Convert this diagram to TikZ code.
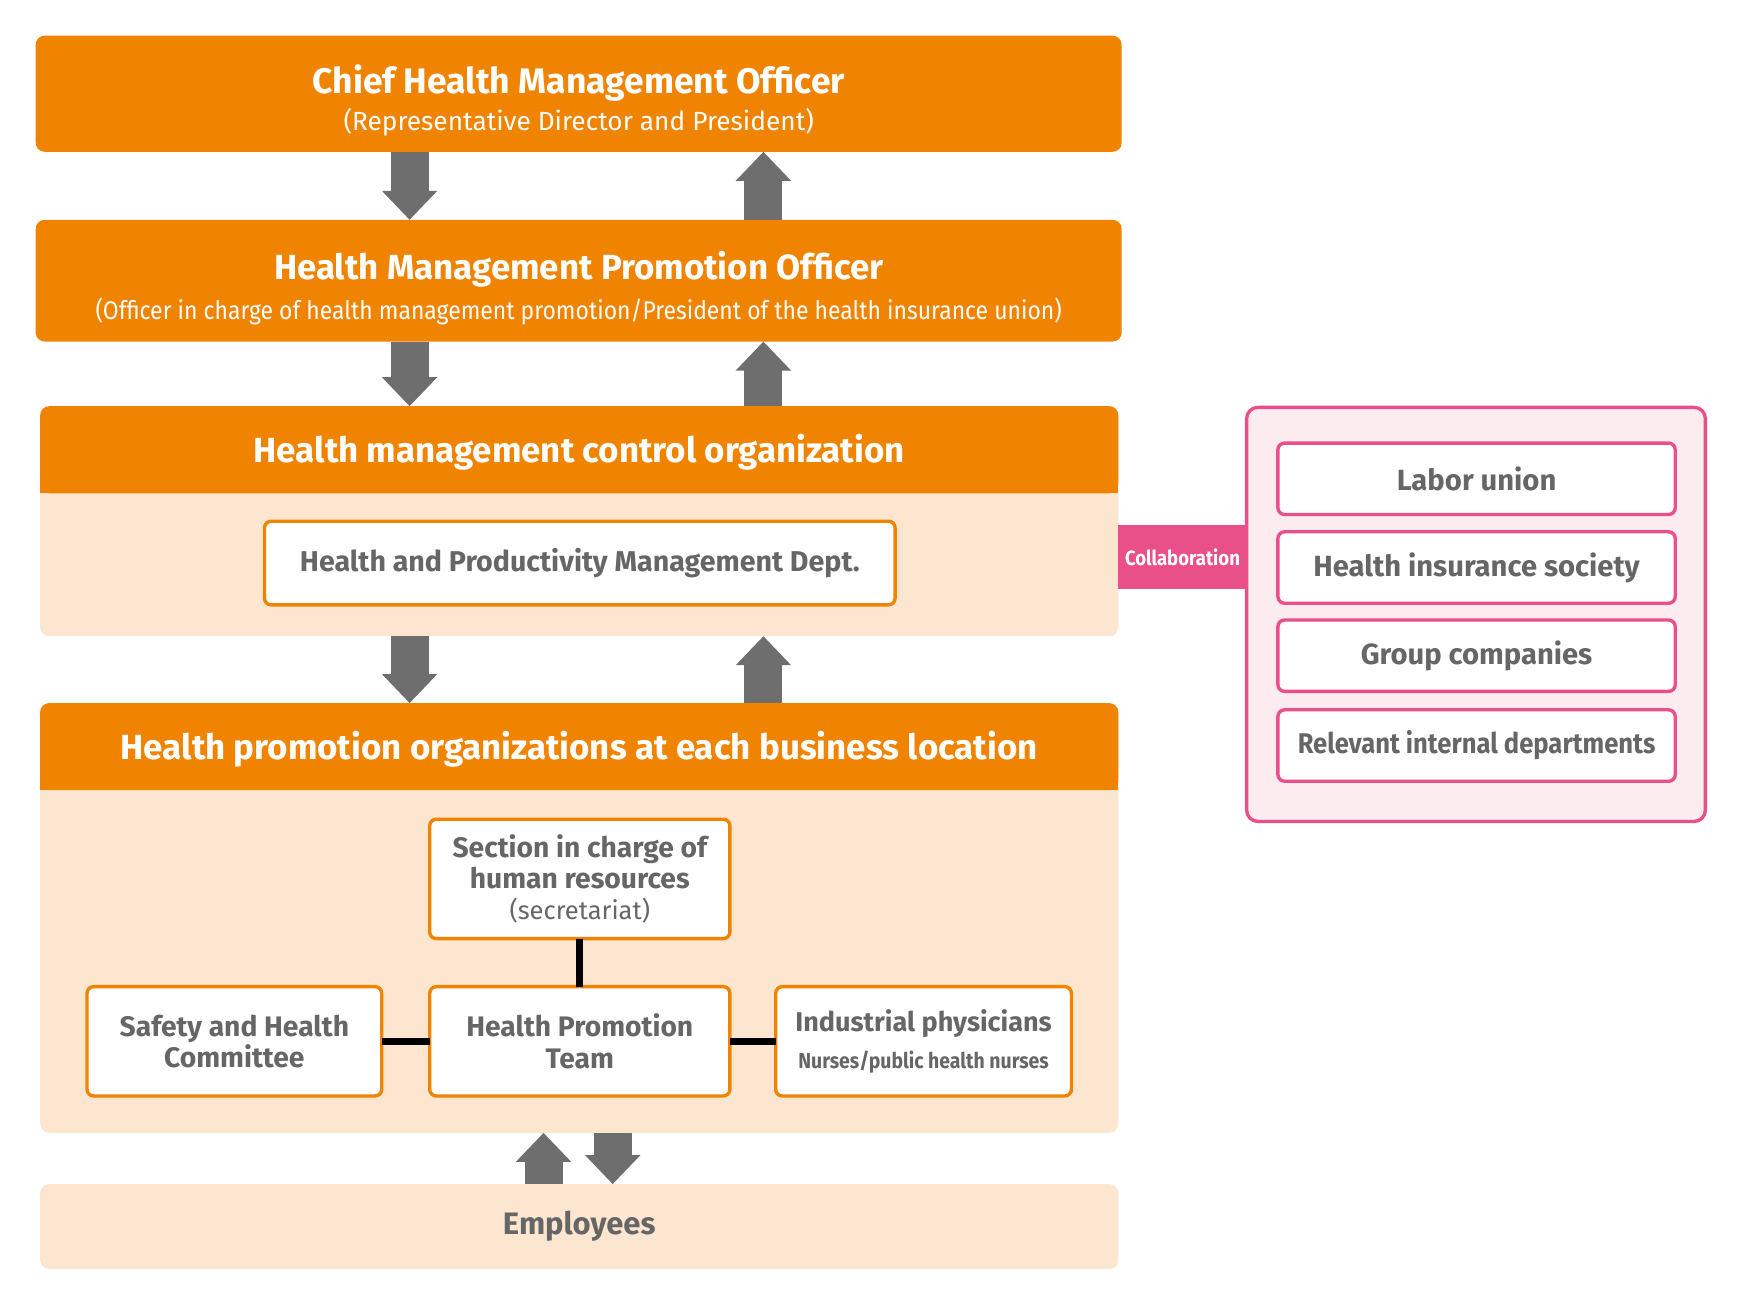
\documentclass[tikz,border=0pt]{standalone}
\usepackage{fontspec}
\setmainfont{Fira Sans}
\newfontfamily\condfont[FakeStretch=0.9]{Fira Sans}
\usetikzlibrary{arrows.meta}

\definecolor{orgcol}{HTML}{F08300}
\definecolor{peach}{HTML}{FDE6CF}
\definecolor{pinkcol}{HTML}{E9508A}
\definecolor{pinkfill}{HTML}{FCEBEF}
\definecolor{txtgray}{HTML}{666666}
\definecolor{arrgray}{HTML}{6E6E6E}

\newcommand{\headfont}{\bfseries\fontsize{17.8}{21}\selectfont}
\newcommand{\subfont}{\mdseries\fontsize{13.4}{16}\selectfont}
\newcommand{\boxfont}{\bfseries\fontsize{14.4}{16}\selectfont}
\newcommand{\wideboxfont}{\bfseries\fontsize{14.9}{17}\selectfont}
\newcommand{\smallfont}{\fontsize{11}{14}\selectfont}

\tikzset{
	dims/.style 2 args={minimum width=#1*0.02cm, minimum height=#2*0.02cm},
	orgbox/.style={fill=orgcol, rounded corners=0.16cm, inner sep=0pt, outer sep=0pt},
	headtxt/.style={text=white, align=center, font=\headfont},
	bodybox/.style={fill=peach, rounded corners=0.16cm, inner sep=0pt, outer sep=0pt},
	unitbox/.style={draw=orgcol, line width=0.06cm, fill=white, rounded corners=0.12cm, text=txtgray, inner sep=0pt, outer sep=0pt, align=center, font=\boxfont},
	partnerbox/.style={draw=pinkcol, line width=0.06cm, fill=white, rounded corners=0.12cm, text=txtgray, inner sep=0pt, outer sep=0pt, align=center, font=\wideboxfont, dims={356}{64}},
	blockarrow/.style={draw=arrgray, line width=0.68cm, -{Triangle[width=0.96cm, length=0.52cm]}},
	link/.style={draw=black, line width=0.12cm}
}

\begin{document}
\begin{tikzpicture}[x=0.02cm, y=-0.02cm]
	\useasboundingbox (0,0) rectangle (1568,1165);

	% top levels
	\node[orgbox, dims={973}{104}] (chief) at (518.5,84) {};
	\node[headtxt, font=\bfseries\fontsize{18.1}{21}\selectfont] at ([yshift=-0.12cm]chief.center) {Chief Health Management Officer\\[-2.3pt]{\subfont (Representative Director and President)}};
	\node[orgbox, dims={973}{109}] (promo) at (518.5,251.5) {};
	\node[headtxt] at ([yshift=-0.13cm]promo.center) {Health Management Promotion Officer\\[-0.3pt]{\condfont\subfont\fontsize{13}{16}\selectfont (Officer in charge of health management promotion/President of the health insurance union)}};

	% control organization
	\node[bodybox, dims={966}{206}] (ctrl) at (519,467) {};
	\node[orgbox, dims={966}{78}] (ctrlhead) at (519,403) {};
	\fill[orgcol] (ctrlhead.west) rectangle (ctrlhead.south east);
	\node[headtxt] at ([yshift=-0.04cm]ctrlhead.center) {Health management control organization};
	\node[unitbox, dims={565}{75}, font=\bfseries\fontsize{14.6}{17}\selectfont] (dept) at (519.5,504.5) {Health and Productivity Management Dept.};

	% business locations
	\node[bodybox, dims={966}{385}] (loc) at (519,822.5) {};
	\node[orgbox, dims={966}{78}] (lochead) at (519,669) {};
	\fill[orgcol] (lochead.west) rectangle (lochead.south east);
	\node[headtxt] at ([yshift=-0.04cm]lochead.center) {Health promotion organizations at each business location};
	\node[unitbox, dims={269}{107}] (hr) at (519.5,787.5) {Section in charge of\\human resources\\{\mdseries\fontsize{13}{15}\selectfont (secretariat)}};
	\node[unitbox, dims={264}{98}] (safety) at (210,933) {Safety and Health\\Committee};
	\node[unitbox, dims={269}{98}] (team) at (519.5,933) {Health Promotion\\Team};
	\node[unitbox, dims={265}{98}, font=\bfseries\fontsize{13.8}{16}\selectfont] (phys) at (827.5,933) {Industrial physicians\\[3pt]{\condfont\smallfont\bfseries Nurses/public health nurses}};

	\draw[link] (hr) -- (team);
	\draw[link] (safety) -- (team);
	\draw[link] (team) -- (phys);

	% employees
	\node[bodybox, dims={966}{76}, text=txtgray, font=\bfseries\fontsize{15.8}{18}\selectfont] (emp) at (519,1099) {Employees};

	% partners
	\node[draw=pinkcol, line width=0.06cm, fill=pinkfill, rounded corners=0.2cm, dims={411}{371}] (partners) at (1322.5,550.5) {};
	\node[partnerbox] (labor) at (1323,429) {Labor union};
	\node[partnerbox] (insur) at (1323,508.5) {Health insurance society};
	\node[partnerbox] (group) at (1323,587.5) {Group companies};
	\node[partnerbox, font=\condfont\bfseries\fontsize{14.5}{17}\selectfont] (relev) at (1323,668) {Relevant internal departments};
	\node[fill=pinkcol, text=white, inner sep=0pt, dims={115}{58}, font=\condfont\bfseries\fontsize{10.5}{12}\selectfont] (collab) at (1059.5,499) {Collaboration};

	% arrows
	\coordinate (dx) at (367,0);
	\coordinate (ux) at (684,0);
	\coordinate (ex) at (487,0);
	\coordinate (fx) at (549,0);
	\draw[blockarrow] (chief.south -| dx) -- (promo.north -| dx);
	\draw[blockarrow] (promo.north -| ux) -- (chief.south -| ux);
	\draw[blockarrow] (promo.south -| dx) -- (ctrl.north -| dx);
	\draw[blockarrow] (ctrl.north -| ux) -- (promo.south -| ux);
	\draw[blockarrow] (ctrl.south -| dx) -- (loc.north -| dx);
	\draw[blockarrow] (loc.north -| ux) -- (ctrl.south -| ux);
	\draw[blockarrow] (emp.north -| ex) -- (loc.south -| ex);
	\draw[blockarrow] (loc.south -| fx) -- (emp.north -| fx);
\end{tikzpicture}
\end{document}
